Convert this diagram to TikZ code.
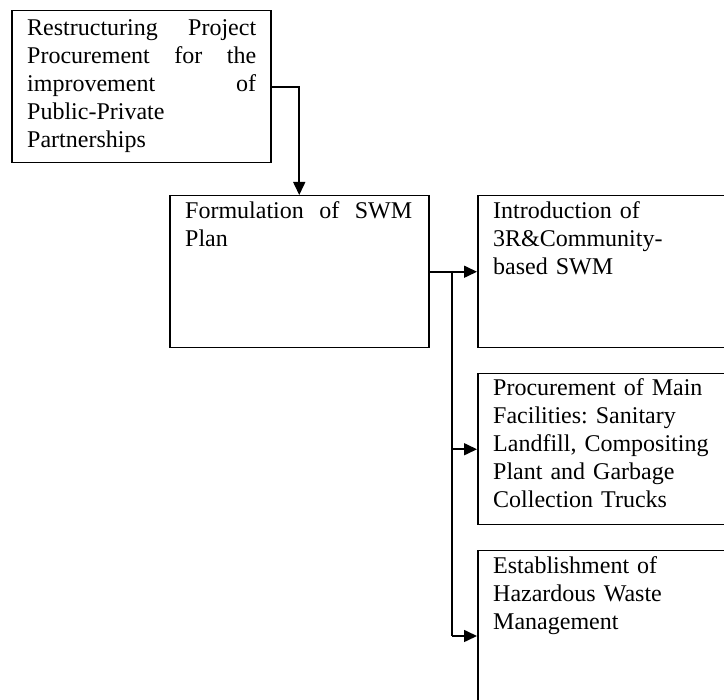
\documentclass[tikz,border=0pt]{standalone}
\usepackage{fontspec}
\setmainfont{Liberation Serif}
\usetikzlibrary{arrows.meta}
\frenchspacing
\tikzset{
  frame/.style={draw, line width=1.5pt, anchor=north west, inner sep=0pt, minimum width=259pt, minimum height=152pt},
  txt/.style={anchor=north west, inner sep=0pt, align=left, text width=#1, font=\fontsize{24}{28}\selectfont, execute at begin node=\strut},
  conn/.style={line width=1.6pt},
  arr/.style={conn, -{Triangle[length=13pt,width=12pt]}}
}
\begin{document}
\begin{tikzpicture}[x=1pt,y=1pt]
\useasboundingbox (0,0) rectangle (724,-700);
\fill[white] (0,0) rectangle (724,-700);
\clip (0,0) rectangle (724,-700);
% frames
\node[frame] (b1) at (11,-10) {};
\node[frame] (b2) at (169,-195) {};
\node[frame] (b3) at (477,-195) {};
\node[frame, minimum height=151pt] (b4) at (477,-373) {};
\node[frame] (b5) at (477,-550) {};
% texts
\node[txt=229pt] (t1) at (27,-15.4) {Restructuring\hfill Project\\Procurement\hfill for\hfill the\\improvement\hfill of\\Public-Private\\Partnerships};
\node[txt=227pt] (t2) at (185,-198.4) {Formulation\hfill of\hfill SWM\\Plan};
\node[txt=232pt] (t3) at (493,-198.4) {Introduction of\\3R\&Community-\\based SWM};
\node[txt=232pt] (t4) at (493,-375.4) {Procurement of Main\\Facilities: Sanitary\\Landfill, Compositing\\Plant and Garbage\\Collection Trucks};
\node[txt=232pt] (t5) at (493,-553.4) {Establishment of\\Hazardous Waste\\Management};
% connectors
\draw[arr] (b1.east) -| (b2.north);
\draw[arr] (b2.east) -- (b3.west);
\coordinate (j) at (452,-271);
\coordinate (j5) at (452,-636);
\draw[conn] (j) -- (j5);
\draw[arr] (j |- b4.west) -- (b4.west);
\draw[arr] (j5) -- (j5 -| b5.west);
\end{tikzpicture}
\end{document}
